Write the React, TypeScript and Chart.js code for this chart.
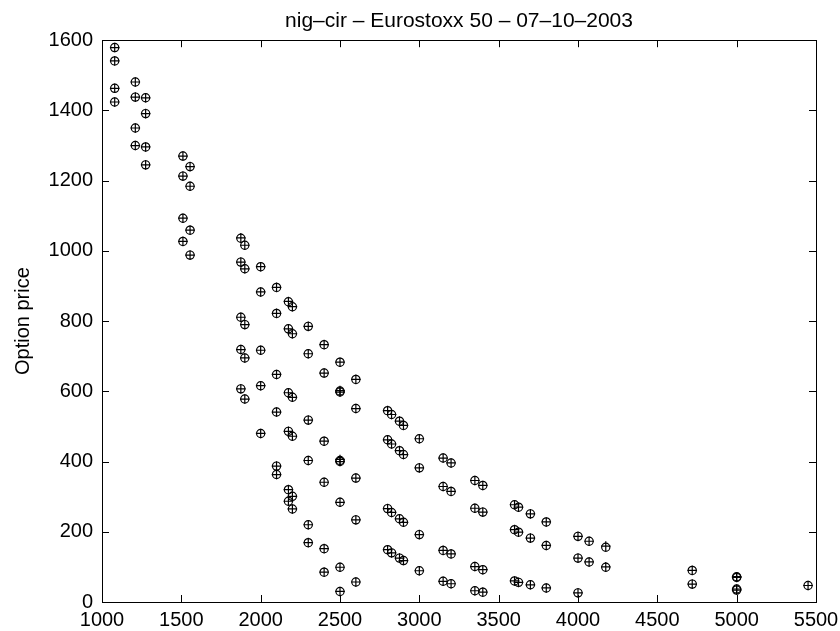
import React, { useEffect, useRef } from "react";
import { Chart, registerables } from "chart.js";

Chart.register(...registerables);

const titleText = "nig–cir – Eurostoxx 50 – 07–10–2003";
const yLabel = "Option price";
const xTicks = [1000, 1500, 2000, 2500, 3000, 3500, 4000, 4500, 5000, 5500];
const yTicks = [0, 200, 400, 600, 800, 1000, 1200, 1400, 1600];

const strikeLevels = [
  1080, 1210, 1275, 1510, 1555, 1875, 1900, 2000, 2100, 2175, 2200, 2300, 2400,
  2500, 2600, 2800, 2825, 2875, 2900, 3000, 3150, 3200, 3350, 3400, 3600, 3625,
  3700, 3800, 4000, 4070, 4175, 4720, 5000, 5450,
];

const marketPrices = [
  [1579, 1541, 1463, 1424],
  [1481, 1438, 1350, 1300],
  [1436, 1391, 1296, 1245],
  [1270, 1213, 1093, 1027],
  [1240, 1184, 1059, 988],
  [1036, 968, 811, 719, 607],
  [1016, 949, 790, 695, 578],
  [955, 883, 717, 616, 480],
  [896, 822, 648, 541, 387, 363],
  [855, 778, 596, 486, 320, 287],
  [841, 764, 583, 472, 301, 265],
  [785, 707, 518, 403, 220, 169],
  [733, 652, 458, 341, 152, 85],
  [683, 601, 598, 403, 400, 284, 99, 30],
  [634, 551, 353, 234, 57],
  [545, 462, 266, 149],
  [534, 450, 255, 140],
  [515, 431, 237, 125],
  [503, 420, 227, 118],
  [465, 382, 192, 89],
  [410, 329, 147, 59],
  [396, 315, 137, 52],
  [346, 267, 101, 32],
  [332, 256, 92, 28],
  [277, 206, 60],
  [270, 199, 56],
  [251, 182, 49],
  [228, 161, 40],
  [187, 125, 26],
  [173, 114],
  [156, 99],
  [90, 51],
  [72, 70, 37, 34],
  [47],
];

const modelPrices = [
  [1579, 1541, 1463, 1424],
  [1481, 1438, 1350, 1300],
  [1436, 1391, 1296, 1245],
  [1270, 1213, 1093, 1027],
  [1240, 1184, 1059, 988],
  [1037, 968, 811, 719, 607],
  [1016, 949, 790, 695, 578],
  [955, 883, 717, 616, 480],
  [896, 822, 648, 541, 387, 363],
  [856, 778, 596, 486, 320, 287],
  [841, 764, 583, 472, 301, 265],
  [785, 707, 518, 403, 220, 169],
  [733, 652, 458, 341, 152, 85],
  [683, 602, 598, 406, 400, 284, 99, 30],
  [634, 551, 353, 234, 57],
  [545, 462, 266, 149],
  [534, 450, 255, 140],
  [515, 431, 237, 125],
  [503, 420, 227, 118],
  [465, 382, 192, 89],
  [410, 329, 147, 59],
  [396, 315, 137, 52],
  [346, 267, 101, 32],
  [332, 256, 92, 28],
  [277, 206, 60],
  [270, 199, 56],
  [251, 182, 49],
  [228, 161, 40],
  [187, 125, 26],
  [173, 114],
  [159, 100],
  [90, 51],
  [72, 70, 37, 34],
  [47],
];

const toPoints = (prices: number[][]) =>
  strikeLevels.flatMap((k, i) => prices[i].map((p) => ({ x: k, y: p })));

const FONT = "'Liberation Sans', Arial, Helvetica, sans-serif";

const framePlugin = {
  id: "matlabFrame",
  afterDatasetsDraw(chart: any) {
    const { ctx, chartArea: a, scales } = chart;
    const xs = scales.x;
    const ys = scales.y;
    const L = 7;
    ctx.save();
    ctx.strokeStyle = "#000";
    ctx.lineWidth = 1;
    ctx.strokeRect(
      Math.round(a.left) + 0.5,
      Math.round(a.top) + 0.5,
      Math.round(a.right - a.left),
      Math.round(a.bottom - a.top)
    );
    ctx.beginPath();
    xs.ticks.forEach((t: any) => {
      const px = Math.round(xs.getPixelForValue(t.value)) + 0.5;
      ctx.moveTo(px, a.bottom);
      ctx.lineTo(px, a.bottom - L);
      ctx.moveTo(px, a.top);
      ctx.lineTo(px, a.top + L);
    });
    ys.ticks.forEach((t: any) => {
      const py = Math.round(ys.getPixelForValue(t.value)) + 0.5;
      ctx.moveTo(a.left, py);
      ctx.lineTo(a.left + L, py);
      ctx.moveTo(a.right, py);
      ctx.lineTo(a.right - L, py);
    });
    ctx.stroke();
    ctx.restore();
  },
};

export default function App() {
  const ref = useRef<HTMLCanvasElement | null>(null);

  useEffect(() => {
    if (!ref.current) return;
    const chart = new Chart(ref.current, {
      type: "scatter",
      data: {
        datasets: [
          {
            label: "Market",
            data: toPoints(marketPrices),
            pointStyle: "circle",
            pointRadius: 4.1,
            borderWidth: 1.2,
            borderColor: "#000",
            backgroundColor: "rgba(0,0,0,0)",
          },
          {
            label: "Model",
            data: toPoints(modelPrices),
            pointStyle: "cross",
            pointRadius: 4.8,
            borderWidth: 1.2,
            borderColor: "#000",
            backgroundColor: "rgba(0,0,0,0)",
          },
        ],
      },
      options: {
        animation: false,
        responsive: false,
        devicePixelRatio: 1,
        layout: { padding: { left: 0, right: 24, top: 0, bottom: 0 } },
        plugins: {
          legend: { display: false },
          tooltip: { enabled: false },
          title: {
            display: true,
            fullSize: false,
            text: titleText,
            color: "#000",
            font: { family: FONT, size: 21, weight: "normal" },
            padding: { top: 9, bottom: 6 },
          },
        },
        scales: {
          x: {
            type: "linear",
            min: 1000,
            max: 5500,
            afterBuildTicks: (s: any) => {
              s.ticks = xTicks.map((v) => ({ value: v }));
            },
            afterFit: (s: any) => {
              s.height = 29;
              s.paddingLeft = 0;
              s.paddingRight = 0;
            },
            grid: { display: false, drawTicks: false },
            border: { display: false },
            ticks: {
              color: "#000",
              font: { family: FONT, size: 20 },
              padding: 6,
              autoSkip: false,
              maxRotation: 0,
              minRotation: 0,
              callback: (v: any) => String(v),
            },
          },
          y: {
            type: "linear",
            min: 0,
            max: 1600,
            afterBuildTicks: (s: any) => {
              s.ticks = yTicks.map((v) => ({ value: v }));
            },
            afterFit: (s: any) => {
              s.width = 102;
              s.paddingTop = 0;
              s.paddingBottom = 0;
            },
            grid: { display: false, drawTicks: false },
            border: { display: false },
            title: {
              display: true,
              text: yLabel,
              color: "#000",
              font: { family: FONT, size: 20 },
              padding: { top: 11, bottom: 0 },
            },
            ticks: {
              color: "#000",
              font: { family: FONT, size: 20 },
              padding: 9,
              autoSkip: false,
              callback: (v: any) => String(v),
            },
          },
        },
      },
      plugins: [framePlugin],
    } as any);
    return () => chart.destroy();
  }, []);

  return (
    <div style={{ position: "absolute", left: 0, top: 0, width: 840, height: 631, background: "#fff" }}>
      <canvas ref={ref} width={840} height={631} style={{ display: "block" }} />
    </div>
  );
}
